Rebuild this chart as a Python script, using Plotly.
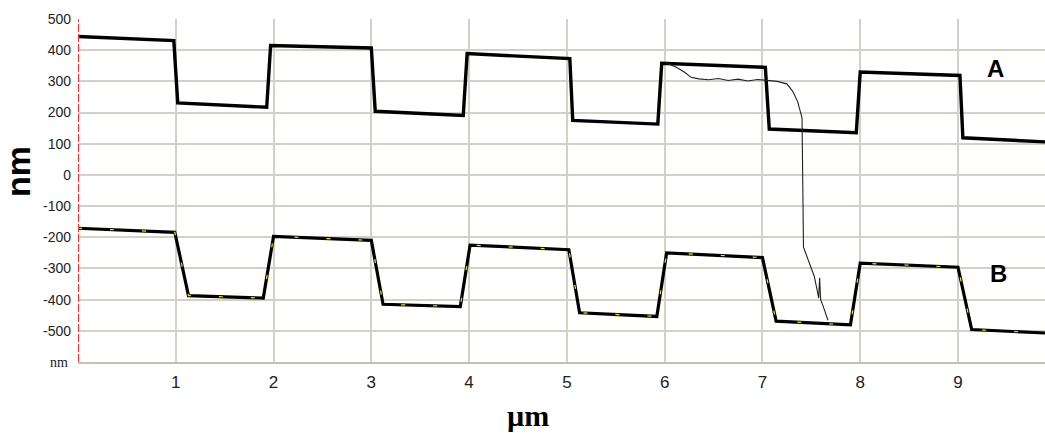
import plotly.graph_objects as go

# ---- data ----
A_x = [0.00, 0.98, 1.02, 1.93, 1.97, 3.00, 3.04, 3.94, 3.98, 5.03, 5.06, 5.93, 5.97,
       7.03, 7.07, 7.96, 8.00, 9.02, 9.05, 9.89]
A_y = [444, 431, 231, 217, 415, 407, 204, 191, 389, 373, 175, 163, 358,
       345, 147, 135, 330, 319, 119, 106]

B_x = [0.00, 0.99, 1.13, 1.895, 2.00, 3.00, 3.12, 3.91, 4.01, 5.02, 5.13, 5.92, 6.02,
       7.00, 7.14, 7.90, 8.00, 9.00, 9.14, 9.89]
B_y = [-171, -184, -387, -395, -197, -210, -415, -422, -225, -240, -442, -454, -250,
       -265, -469, -481, -283, -296, -496, -507]

C_x = [6.02, 6.12, 6.20, 6.27, 6.35, 6.45, 6.55, 6.65, 6.75, 6.85, 6.95, 7.05, 7.15,
       7.25, 7.31, 7.36, 7.39, 7.405, 7.42, 7.48, 7.53, 7.56, 7.575, 7.585, 7.595, 7.62, 7.67]
C_y = [358, 345, 330, 313, 308, 305, 309, 303, 307, 301, 306, 302, 300,
       292, 268, 235, 205, 183, -232, -280, -325, -370, -395, -330, -400, -420, -466]

x_ticks = [1, 2, 3, 4, 5, 6, 7, 8, 9]
y_ticks = [500, 400, 300, 200, 100, 0, -100, -200, -300, -400, -500, -600]
y_labels = ["500", "400", "300", "200", "100", "0", "-100", "-200", "-300", "-400", "-500", ""]

GRID = "#d4d0c8"
NARROW = "Liberation Sans Narrow, Arial Narrow, Liberation Sans, Arial, sans-serif"
SERIF = "Liberation Serif, DejaVu Serif, Times New Roman, serif"

fig = go.Figure()
fig.add_trace(go.Scatter(x=B_x, y=B_y, mode="lines",
                         line=dict(color="black", width=3.2), hoverinfo="skip"))
fig.add_trace(go.Scatter(x=B_x, y=B_y, mode="lines",
                         line=dict(color="#f5e800", width=1.2, dash="4px,28px"), hoverinfo="skip"))
fig.add_trace(go.Scatter(x=A_x, y=A_y, mode="lines",
                         line=dict(color="black", width=3.4), hoverinfo="skip"))
fig.add_trace(go.Scatter(x=C_x, y=C_y, mode="lines",
                         line=dict(color="#222222", width=1.1), hoverinfo="skip"))

# red dashed left axis
fig.add_shape(type="line", xref="x", yref="y", x0=0, x1=0, y0=-600, y1=500,
              line=dict(color="#ff3030", width=2, dash="8px,2px"), layer="above")

fig.update_layout(
    width=1045, height=433,
    margin=dict(l=78, r=0, t=19, b=71),
    paper_bgcolor="white", plot_bgcolor="white",
    showlegend=False,
    xaxis=dict(range=[0, 9.89], tickvals=x_ticks, ticktext=[str(v) for v in x_ticks],
               showgrid=True, gridcolor=GRID, gridwidth=1.5, zeroline=False,
               showline=True, linecolor="#c4c0b8", linewidth=2, ticks="",
               tickfont=dict(family=NARROW, size=17, color="#222222"),
               ticklabelstandoff=4),
    yaxis=dict(range=[-600, 500], tickvals=y_ticks, ticktext=y_labels,
               showgrid=True, gridcolor=GRID, gridwidth=1.5, zeroline=False,
               showline=False, ticks="",
               tickfont=dict(family=NARROW, size=14, color="#222222"),
               ticklabelstandoff=6),
    annotations=[
        dict(text="<b>A</b>", x=9.38, y=342, xref="x", yref="y", showarrow=False,
             font=dict(family="Liberation Sans, Arial", size=24, color="black"),
             xanchor="center", yanchor="middle"),
        dict(text="<b>B</b>", x=9.41, y=-316, xref="x", yref="y", showarrow=False,
             font=dict(family="Liberation Sans, Arial", size=24, color="black"),
             xanchor="center", yanchor="middle"),
        dict(text="<b>nm</b>", x=-0.062, y=0.554, xref="paper", yref="paper",
             showarrow=False, textangle=-90,
             font=dict(family="Liberation Sans, Arial", size=34, color="black"),
             xanchor="center", yanchor="middle"),
        dict(text="<b>µm</b>", x=0.465, y=-0.155, xref="paper", yref="paper",
             showarrow=False,
             font=dict(family=SERIF, size=30, color="black"),
             xanchor="center", yanchor="middle"),
        dict(text="nm", x=-0.008, y=-600, xref="paper", yref="y", showarrow=False,
             font=dict(family=SERIF, size=14, color="#222222"),
             xanchor="right", yanchor="middle"),
    ],
)

fig.write_html("out.html")
